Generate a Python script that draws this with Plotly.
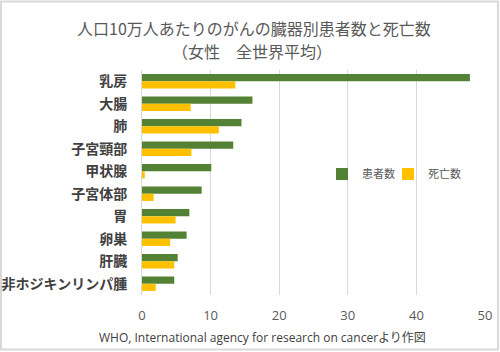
import plotly.graph_objects as go

categories = ["乳房", "大腸", "肺", "子宮頸部", "甲状腺", "子宮体部", "胃", "卵巣", "肝臓", "非ホジキンリンパ腫"]
patients = [47.8, 16.1, 14.5, 13.3, 10.1, 8.7, 6.9, 6.5, 5.2, 4.7]
deaths = [13.6, 7.1, 11.2, 7.2, 0.4, 1.7, 4.9, 4.1, 4.7, 2.0]
series_names = ["患者数", "死亡数"]
x_ticks = [0, 10, 20, 30, 40, 50]

W, H = 500, 352
L, R, T, B = 142, 15, 70, 57
pw, ph = W - L - R, H - T - B

def px_x(p):
    return (p - L) / pw

def px_y(p):
    return (H - B - p) / ph

font_cjk = "Noto Sans CJK JP, Noto Sans, sans-serif"
gray = "#595959"

fig = go.Figure()
fig.add_trace(go.Bar(y=categories, x=patients, name=series_names[0], orientation="h",
                     marker=dict(color="#548235", line=dict(width=0)), legend="legend"))
fig.add_trace(go.Bar(y=categories, x=deaths, name=series_names[1], orientation="h",
                     marker=dict(color="#FFC000", line=dict(width=0)), legend="legend2"))

legend_common = dict(orientation="h", y=px_y(174), xanchor="left", yanchor="middle",
                     font=dict(size=11, color=gray), itemwidth=30, bgcolor="rgba(0,0,0,0)")

fig.update_layout(
    width=W, height=H,
    margin=dict(l=L, r=R, t=T, b=B, autoexpand=False),
    paper_bgcolor="white", plot_bgcolor="white",
    barmode="group", bargap=0.36, bargroupgap=0,
    font=dict(family=font_cjk, color=gray),
    showlegend=True,
    legend=dict(x=px_x(322), **legend_common),
    legend2=dict(x=px_x(388), **legend_common),
    xaxis=dict(range=[0, 50], tickvals=x_ticks, showgrid=True, gridcolor="#d9d9d9", gridwidth=1,
               zeroline=False, showline=False, ticks="outside", ticklen=8, tickcolor="rgba(0,0,0,0)",
               tickfont=dict(size=13, color=gray, family="Open Sans, sans-serif"), fixedrange=True,
               automargin=False),
    yaxis=dict(autorange="reversed", showgrid=False, zeroline=False, showline=True,
               linecolor="#d9d9d9", linewidth=1, ticks="", ticklabelstandoff=11, automargin=False,
               tickfont=dict(size=14, color="#404040", family=font_cjk, weight=600)),
)

fig.add_annotation(text="人口10万人あたりのがんの臓器別患者数と死亡数", xref="paper", yref="paper",
                   x=px_x(254), y=px_y(28), showarrow=False, xanchor="center", yanchor="middle",
                   font=dict(size=16, color=gray, family=font_cjk))
fig.add_annotation(text="（女性　全世界平均）", xref="paper", yref="paper",
                   x=px_x(252), y=px_y(51), showarrow=False, xanchor="center", yanchor="middle",
                   font=dict(size=16, color=gray, family=font_cjk))
fig.add_annotation(text="WHO, International agency for research on cancerより作図", xref="paper", yref="paper",
                   x=px_x(97), y=px_y(337), showarrow=False, xanchor="left", yanchor="middle",
                   font=dict(size=12, color="#404040", family="Open Sans, Noto Sans CJK JP, sans-serif"))

fig.add_shape(type="rect", xref="paper", yref="paper",
              x0=px_x(1), x1=px_x(498), y0=px_y(349.5), y1=px_y(1.5),
              line=dict(color="#d9d9d9", width=2), fillcolor="rgba(0,0,0,0)", layer="below")

fig.write_html("out.html")
